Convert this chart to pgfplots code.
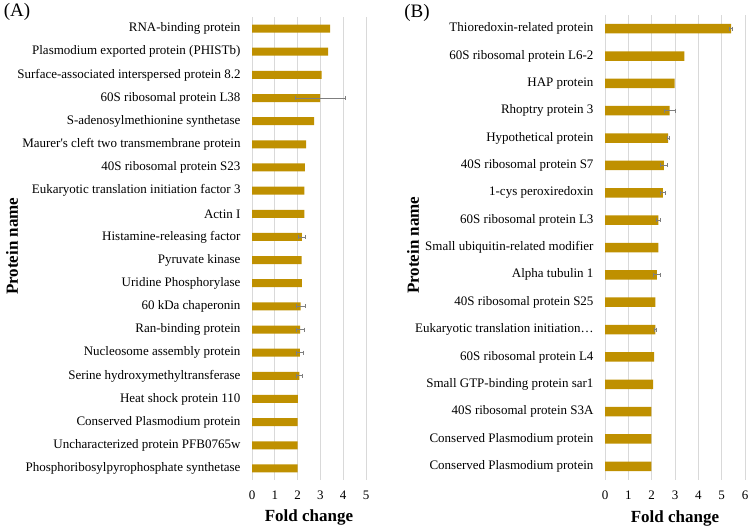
\documentclass[border=0pt]{standalone}
\usepackage{fontspec}
\setmainfont{Liberation Serif}
\usepackage{pgfplots}
\pgfplotsset{compat=1.18}
\usepackage{pgfplotstable}

\definecolor{bargold}{HTML}{BF9000}
\definecolor{gridgray}{HTML}{D9D9D9}
\definecolor{errgray}{HTML}{7F7F7F}

% panel A: fold change and error per protein, top to bottom
\pgfplotstableread[col sep=comma]{
pos,fc,err,name
0,3.43,0,RNA-binding protein
1,3.34,0,Plasmodium exported protein (PHISTb)
2,3.05,0,Surface-associated interspersed protein 8.2
3,2.99,1.10,60S ribosomal protein L38
4,2.72,0,S-adenosylmethionine synthetase
5,2.37,0,Maurer\textquotesingle s cleft two transmembrane protein
6,2.32,0,40S ribosomal protein S23
7,2.30,0,Eukaryotic translation initiation factor 3
8,2.30,0,Actin I
9,2.19,0.17,Histamine-releasing factor
10,2.18,0,Pyruvate kinase
11,2.19,0,Uridine Phosphorylase
12,2.13,0.19,60 kDa chaperonin
13,2.11,0.17,Ran-binding protein
14,2.10,0.15,Nucleosome assembly protein
15,2.08,0.13,Serine hydroxymethyltransferase
16,2.01,0,Heat shock protein 110
17,2.00,0,Conserved Plasmodium protein
18,2.00,0,Uncharacterized protein PFB0765w
19,2.00,0,Phosphoribosylpyrophosphate synthetase
}\proteinsA

% panel B
\pgfplotstableread[col sep=comma]{
pos,fc,err,name
0,5.40,0.08,Thioredoxin-related protein
1,3.40,0,60S ribosomal protein L6-2
2,2.98,0,HAP protein
3,2.77,0.23,Rhoptry protein 3
4,2.71,0.04,Hypothetical protein
5,2.52,0.16,40S ribosomal protein S7
6,2.48,0.10,1-cys peroxiredoxin
7,2.29,0.08,60S ribosomal protein L3
8,2.29,0,Small ubiquitin-related modifier
9,2.22,0.14,Alpha tubulin 1
10,2.16,0,40S ribosomal protein S25
11,2.16,0.05,Eukaryotic translation initiation…
12,2.10,0,60S ribosomal protein L4
13,2.06,0,Small GTP-binding protein sar1
14,1.99,0,40S ribosomal protein S3A
15,1.99,0,Conserved Plasmodium protein
16,1.99,0,Conserved Plasmodium protein
}\proteinsB

\pgfplotsset{
  fcaxis/.style={
    scale only axis,
    anchor=south west,
    axis line style={draw=none},
    major tick length=0pt,
    xmajorgrids,
    grid style={gridgray, line width=0.75bp},
    xmin=0,
    y dir=reverse,
    ymin=-0.5,
    unbounded coords=discard,
    /pgf/number format/assume math mode=true,
    ticklabel style={font=\fontsize{13bp}{15bp}\selectfont},
    yticklabel style={xshift=-8bp},
    xticklabel style={yshift=-7bp},
    label style={font=\bfseries\fontsize{17bp}{20bp}\selectfont},
    xlabel={Fold change},
    ylabel={Protein name},
  },
  fcbars/.style={xbar, fill=bargold, draw=none},
  % error bars only where an error is shown
  fcerr/.style={
    draw=none, no markers, forget plot,
    x filter/.expression={\thisrow{err}>0 ? x : nan},
    error bars/.cd,
      x dir=both, x explicit,
      error bar style={draw=errgray, line width=0.75bp},
      error mark options={draw=errgray, rotate=90, mark size=2bp, line width=0.75bp},
  },
}

\begin{document}
\begin{tikzpicture}
\path[use as bounding box] (0,0) rectangle (750bp,528bp);

\begin{axis}[fcaxis,
  at={(252bp,48bp)}, width=114bp, height=463bp,
  xmax=5, xtick={0,...,5},
  ymax=19.5, ytick={0,...,19},
  yticklabels from table={\proteinsA}{name},
  bar width=8bp,
  xlabel style={at={(axis description cs:0.5,-0.082)}, anchor=center},
  ylabel style={at={(axis description cs:-2.105,0.505)}, anchor=center},
]
\addplot[fcbars] table[x=fc, y=pos] {\proteinsA};
\addplot[fcerr] table[x=fc, y=pos, x error=err] {\proteinsA};
\end{axis}

\begin{axis}[fcaxis,
  at={(605bp,48bp)}, width=140bp, height=465bp,
  xmax=6, xtick={0,...,6},
  ymax=16.5, ytick={0,...,16},
  yticklabels from table={\proteinsB}{name},
  bar width=9.5bp,
  xlabel style={at={(axis description cs:0.5,-0.082)}, anchor=center},
  ylabel style={at={(axis description cs:-1.371,0.505)}, anchor=center},
]
\addplot[fcbars] table[x=fc, y=pos] {\proteinsB};
\addplot[fcerr] table[x=fc, y=pos, x error=err] {\proteinsB};
\end{axis}

\node[font=\fontsize{19bp}{22bp}\selectfont] at (17bp,516bp) {(A)};
\node[font=\fontsize{19bp}{22bp}\selectfont] at (417bp,515bp) {(B)};
\end{tikzpicture}
\end{document}
